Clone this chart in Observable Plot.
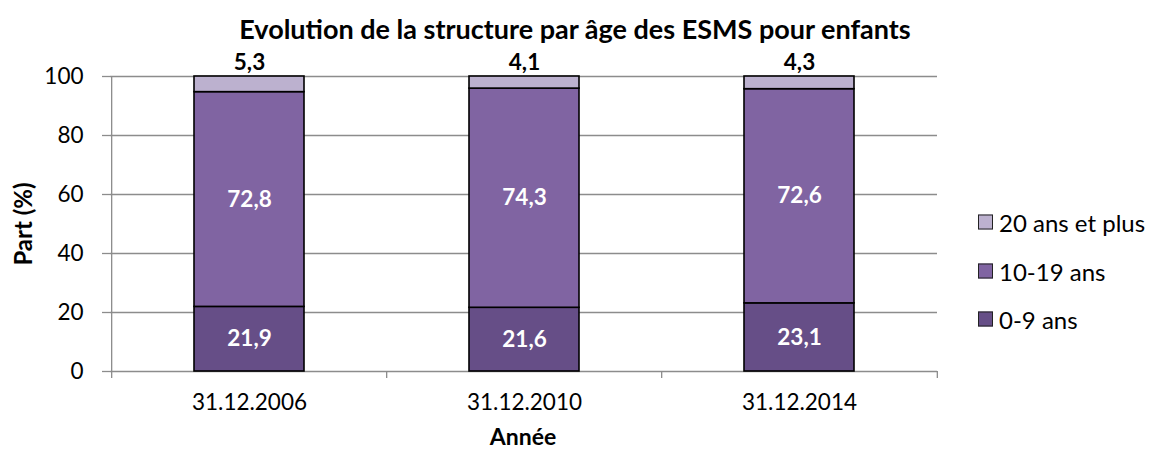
<!DOCTYPE html>
<html>
<head>
<meta charset="utf-8">
<script src="https://cdn.jsdelivr.net/npm/d3@7"></script>
<script src="https://cdn.jsdelivr.net/npm/@observablehq/plot@0.6"></script>
<style>
  body { margin: 0; background: #fff; }
  #wrap { position: relative; width: 1150px; height: 455px; font-family: Lato, "Open Sans", sans-serif; color: #000; }
  #title { position: absolute; left: 0; width: 1150px; top: 13px; text-align: center; font-weight: bold; font-size: 27px; line-height: 32px; }
  #ylabel { position: absolute; left: 22px; top: 224px; transform: translate(-50%, -50%) rotate(-90deg); font-weight: bold; font-size: 24px; white-space: nowrap; }
  #xlabel { position: absolute; left: 523px; top: 422px; transform: translateX(-50%); font-weight: bold; font-size: 23px; }
  #legend { position: absolute; left: 978px; top: 0; }
  .item { position: absolute; left: 0; display: flex; align-items: center; white-space: nowrap; font-size: 24px; transform: translateY(-50%); }
  .sw { width: 13px; height: 13px; border: 1.5px solid #222; margin-right: 6px; }
  #chart { position: absolute; left: 0; top: 0; }
</style>
</head>
<body>
<div id="wrap">
  <div id="chart"></div>
  <div id="title"></div>
  <div id="ylabel"></div>
  <div id="xlabel"></div>
  <div id="legend"></div>
</div>
<script>
const titleText = "Evolution de la structure par âge des ESMS pour enfants";
const yLabel = "Part (%)";
const xLabel = "Année";
const annees = ["31.12.2006", "31.12.2010", "31.12.2014"];
const groupes = ["0-9 ans", "10-19 ans", "20 ans et plus"];
const couleurs = ["#664E87", "#8064A2", "#BCB1CF"];
const v0_9 = [21.9, 21.6, 23.1];
const v10_19 = [72.8, 74.3, 72.6];
const v20plus = [5.3, 4.1, 4.3];
const yTicks = [0, 20, 40, 60, 80, 100];

const series = [v0_9, v10_19, v20plus];
const data = [];
annees.forEach((a, i) => {
  groupes.forEach((g, j) => data.push({annee: a, groupe: g, value: series[j][i]}));
});
const fmt = v => String(v.toFixed(1)).replace(".", ",");
const topGroupe = groupes[2];

document.getElementById("title").textContent = titleText;
document.getElementById("ylabel").textContent = yLabel;
document.getElementById("xlabel").textContent = xLabel;

const W = 1150, H = 455, mL = 110, mR = 213, mT = 76, mB = 84;
const step = (W - mL - mR) / annees.length;

const plot = Plot.plot({
  width: W, height: H,
  marginLeft: mL, marginRight: mR, marginTop: mT, marginBottom: mB,
  style: {fontFamily: "Lato, 'Open Sans', sans-serif", fontSize: "22px", color: "#000", background: "white"},
  x: {domain: annees, paddingInner: 0.6, paddingOuter: 0.3, label: null},
  y: {domain: [0, 100], ticks: yTicks, label: null},
  color: {domain: groupes, range: couleurs},
  marks: [
    Plot.ruleY(yTicks, {stroke: "#8c8c8c", strokeWidth: 1.3, strokeOpacity: 1}),
    Plot.axisY({ticks: yTicks, tickSize: 8, tickPadding: 19, stroke: "#8c8c8c", strokeWidth: 1.3, label: null, fontSize: 22.5}),
    Plot.axisX({tickSize: 0, tickPadding: 23, label: null, fontSize: 22.5}),
    Plot.ruleX(annees, {x: d => d, y1: 0, y2: 100, dx: -step / 2, stroke: "#8c8c8c", strokeWidth: 1.3, filter: (d, i) => i === 0}),
    Plot.ruleX(annees, {x: d => d, y1: 0, y2: 0, insetBottom: -7, dx: -step / 2, stroke: "#8c8c8c", strokeWidth: 1.3}),
    Plot.ruleX(annees, {x: d => d, y1: 0, y2: 0, insetBottom: -7, dx: step / 2, stroke: "#8c8c8c", strokeWidth: 1.3, filter: (d, i) => i === annees.length - 1}),
    Plot.barY(data, Plot.stackY({x: "annee", y: "value", z: "groupe", fill: "groupe", stroke: "#000", strokeWidth: 1.6})),
    Plot.text(data, Plot.stackY({x: "annee", y: "value", z: "groupe",
      text: d => d.groupe === topGroupe ? "" : fmt(d.value), fill: "white", fontWeight: "bold", fontSize: 22.5})),
    Plot.text(data, Plot.stackY2({x: "annee", y: "value", z: "groupe",
      text: d => d.groupe === topGroupe ? fmt(d.value) : "", fill: "black", fontWeight: "bold", fontSize: 22.5, dy: -14}))
  ]
});
document.getElementById("chart").appendChild(plot);

const legend = document.getElementById("legend");
const legendY = {"20 ans et plus": 222, "10-19 ans": 271, "0-9 ans": 319};
[...groupes].reverse().forEach(g => {
  const it = document.createElement("div");
  it.className = "item";
  it.style.top = legendY[g] + "px";
  const sw = document.createElement("div");
  sw.className = "sw";
  sw.style.background = couleurs[groupes.indexOf(g)];
  const t = document.createElement("span");
  t.textContent = g;
  it.appendChild(sw); it.appendChild(t);
  legend.appendChild(it);
});
</script>
</body>
</html>
